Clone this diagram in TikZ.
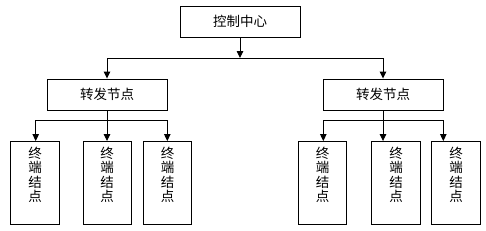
\documentclass[tikz,border=0pt]{standalone}
\usepackage{fontspec}
\newfontfamily\cjk{Noto Sans CJK SC}
\usetikzlibrary{arrows.meta}
\begin{document}
\begin{tikzpicture}[x=1pt,y=1pt,
  conn/.style={line width=0.9pt,black},
  arr/.style={conn,-{Triangle[length=7pt,width=6.5pt]}},
  hbox/.style={draw,line width=0.9pt,minimum width=120pt,minimum height=31pt,inner sep=0pt,font=\cjk\fontsize{13.5}{14}\selectfont},
  leaf/.style={draw,line width=0.9pt,minimum width=48.5pt,minimum height=83pt,inner sep=0pt},
  vlab/.style={anchor=north,inner sep=0pt,yshift=-6pt,align=center,font=\cjk\fontsize{13.5}{14.3}\selectfont}
]
\useasboundingbox (0,0) rectangle (486,-230);
\fill[white] (0,0) rectangle (486,-230);
% top
\node[hbox] (ctl) at (240,-21.5) {控制中心};
\node[hbox] (rl) at (107,-94.5) {转发节点};
\node[hbox] (rr) at (383,-94.5) {转发节点};
% leaves
\node[leaf,label={[vlab]north:终\\端\\结\\点}] (t1) at (35,-183) {};
\node[leaf,label={[vlab]north:终\\端\\结\\点}] (t2) at (107.2,-183) {};
\node[leaf,label={[vlab]north:终\\端\\结\\点}] (t3) at (167.5,-183) {};
\node[leaf,label={[vlab]north:终\\端\\结\\点}] (t4) at (322.5,-183) {};
\node[leaf,label={[vlab]north:终\\端\\结\\点}] (t5) at (396,-183) {};
\node[leaf,label={[vlab]north:终\\端\\结\\点}] (t6) at (456,-183) {};
% level 1
\coordinate (j0) at (240,-58);
\draw[arr] (ctl.south) -- (j0);
\draw[conn] (rl.north |- j0) -- (rr.north |- j0);
\draw[arr] (rl.north |- j0) -- (rl.north);
\draw[arr] (rr.north |- j0) -- (rr.north);
% level 2 left
\coordinate (jl) at (107,-120);
\coordinate (jla) at (35.7,-120);
\coordinate (jlb) at (167.3,-120);
\draw[conn] (rl.south) -- (jl);
\draw[conn] (jla) -- (jlb);
\draw[arr] (jla) -- (jla |- t1.north);
\draw[arr] (jl) -- (jl |- t2.north);
\draw[arr] (jlb) -- (jlb |- t3.north);
% level 2 right
\coordinate (jr) at (383,-120);
\coordinate (jra) at (323.3,-120);
\coordinate (jrb) at (443.3,-120);
\draw[conn] (rr.south) -- (jr);
\draw[conn] (jra) -- (jrb);
\draw[arr] (jra) -- (jra |- t4.north);
\draw[arr] (jr) -- (jr |- t5.north);
\draw[arr] (jrb) -- (jrb |- t6.north);
\end{tikzpicture}
\end{document}
